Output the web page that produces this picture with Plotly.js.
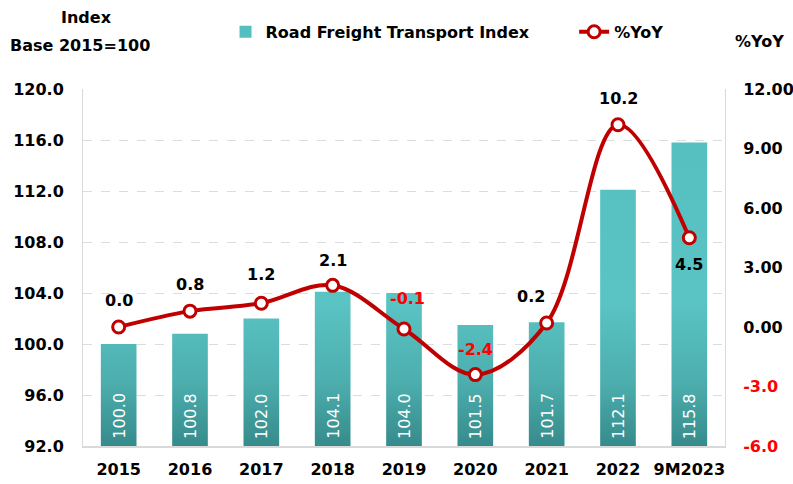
<!DOCTYPE html>
<html>
<head>
<meta charset="utf-8">
<script src="https://cdn.plot.ly/plotly-3.0.1.min.js"></script>
<style>html,body{margin:0;padding:0;background:#fff;}#chart{width:793px;height:484px;}</style>
</head>
<body>
<div id="chart"></div>
<script>
var categories = ["2015","2016","2017","2018","2019","2020","2021","2022","9M2023"];
var indexValues = [100.0,100.8,102.0,104.1,104.0,101.5,101.7,112.1,115.8];
var yoyValues = [0.0,0.8,1.2,2.1,-0.1,-2.4,0.2,10.2,4.5];
var leftTicks = [92,96,100,104,108,112,116,120];
var rightTicks = [-6,-3,0,3,6,9,12];

var FONT = "'DejaVu Sans', sans-serif";
var LEFT_RANGE = [92, 120];

// label placement (styling only): pixel shifts of the %YoY labels
var yoyLabelDy = [27, 27, 29, 25, 30, 25, 27, 26, -27];
var yoyLabelDx = [0, 0, 0, 0, 3, 0, -16, 0, 0];

var rightText = rightTicks.map(function(v){
  return v < 0 ? '<span style="color:#FF0000">' + v.toFixed(1) + '</span>' : v.toFixed(2);
});

var traces = [
  {
    type: 'bar', name: 'Road Freight Transport Index', legend: 'legend',
    x: categories, y: indexValues,
    marker: {color: '#55BEBE'},
    width: 0.5,
    hoverinfo: 'skip'
  },
  {
    type: 'scatter', mode: 'lines+markers', name: '%YoY', legend: 'legend2',
    x: categories, y: yoyValues, yaxis: 'y2',
    line: {color: '#C00000', width: 4, shape: 'spline', smoothing: 1},
    marker: {symbol: 'circle', size: 12, color: '#FFFFFF', line: {color: '#C00000', width: 3}},
    cliponaxis: false,
    hoverinfo: 'skip'
  }
];

// value labels inside bars, anchored at the visible bottom of each bar (x = category index)
var barLabels = categories.map(function(c, i){
  return {
    text: indexValues[i].toFixed(1), x: i, y: LEFT_RANGE[0], xref: 'x', yref: 'y',
    textangle: -90, xanchor: 'center', yanchor: 'bottom', yshift: 5,
    showarrow: false, font: {family: FONT, size: 16, color: '#FFFFFF', weight: 'normal'}
  };
});

// %YoY value labels
var yoyLabels = yoyValues.map(function(v, i){
  return {
    text: v.toFixed(1), x: i, y: v, xref: 'x', yref: 'y2',
    xanchor: 'center', yanchor: 'middle', yshift: yoyLabelDy[i], xshift: yoyLabelDx[i],
    showarrow: false, font: {family: FONT, size: 16, color: v < 0 ? '#FF0000' : '#000000', weight: 'bold'}
  };
});

var legendFont = {family: FONT, size: 16, color: '#000', weight: 'bold'};

var layout = {
  width: 793, height: 484,
  margin: {l: 83, r: 68, t: 89, b: 38, autoexpand: false},
  paper_bgcolor: '#FFFFFF', plot_bgcolor: '#FFFFFF',
  font: {family: FONT, size: 16, color: '#000000', weight: 'bold'},
  showlegend: true,
  legend: {orientation: 'h', x: 0.222, y: 1.16, xanchor: 'left', yanchor: 'middle',
           font: legendFont, bgcolor: 'rgba(0,0,0,0)'},
  legend2: {orientation: 'h', x: 0.765, y: 1.16, xanchor: 'left', yanchor: 'middle',
           font: legendFont, bgcolor: 'rgba(0,0,0,0)'},
  xaxis: {
    type: 'category', categoryarray: categories, categoryorder: 'array',
    range: [-0.5, categories.length - 0.5], autorange: false,
    showgrid: false, zeroline: false,
    showline: true, linecolor: '#D9D9D9', linewidth: 2,
    ticks: '', ticklabelstandoff: 8, tickfont: {family: FONT, size: 16, weight: 'bold'}
  },
  yaxis: {
    range: LEFT_RANGE, tickvals: leftTicks, ticktext: leftTicks.map(function(v){return v.toFixed(1);}),
    showgrid: true, gridcolor: '#DCDCDC', griddash: 'dash', gridwidth: 1,
    zeroline: false, showline: true, linecolor: '#D9D9D9', linewidth: 1,
    ticks: '', ticklabelstandoff: 15,
    tickfont: {family: FONT, size: 16, weight: 'bold'}
  },
  yaxis2: {
    range: [-6, 12], overlaying: 'y', side: 'right',
    tickvals: rightTicks, ticktext: rightText,
    showgrid: false, zeroline: false, showline: true, linecolor: '#D9D9D9', linewidth: 1,
    ticks: '', ticklabelstandoff: 14,
    tickfont: {family: FONT, size: 16, weight: 'bold'}
  },
  annotations: barLabels.concat(yoyLabels).concat([
    {text: 'Index', xref: 'paper', yref: 'paper', x: 0.006, y: 1.199, xanchor: 'center', yanchor: 'middle',
     showarrow: false, font: {family: FONT, size: 16, weight: 'bold'}},
    {text: 'Base 2015=100', xref: 'paper', yref: 'paper', x: -0.005, y: 1.123, xanchor: 'center', yanchor: 'middle',
     showarrow: false, font: {family: FONT, size: 16, weight: 'bold'}},
    {text: '%YoY', xref: 'paper', yref: 'paper', x: 1.054, y: 1.132, xanchor: 'center', yanchor: 'middle',
     showarrow: false, font: {family: FONT, size: 16, weight: 'bold'}}
  ])
};

function applyGradient(){
  var svg = document.querySelector('#chart .main-svg');
  if (!svg) return;
  var defs = svg.querySelector('defs');
  if (!defs) return;
  var plotH = 484 - 89 - 38;
  if (!document.getElementById('barGrad')) {
    var ns = 'http://www.w3.org/2000/svg';
    var g = document.createElementNS(ns, 'linearGradient');
    g.setAttribute('id', 'barGrad');
    g.setAttribute('gradientUnits', 'userSpaceOnUse');
    g.setAttribute('x1', '0'); g.setAttribute('y1', '0');
    g.setAttribute('x2', '0'); g.setAttribute('y2', String(plotH));
    [['0', '#55BEBE'], ['0.6', '#5AC3C3'], ['0.82', '#4DAEAE'], ['1', '#368B8B']].forEach(function(s){
      var st = document.createElementNS(ns, 'stop');
      st.setAttribute('offset', s[0]); st.setAttribute('stop-color', s[1]);
      g.appendChild(st);
    });
    defs.appendChild(g);
  }
  document.querySelectorAll('#chart .trace.bars .point path').forEach(function(p){
    p.style.fill = 'url(#barGrad)';
  });
}

Plotly.newPlot('chart', traces, layout, {displayModeBar: false, staticPlot: true}).then(function(gd){
  applyGradient();
  gd.on('plotly_afterplot', applyGradient);
});
</script>
</body>
</html>
